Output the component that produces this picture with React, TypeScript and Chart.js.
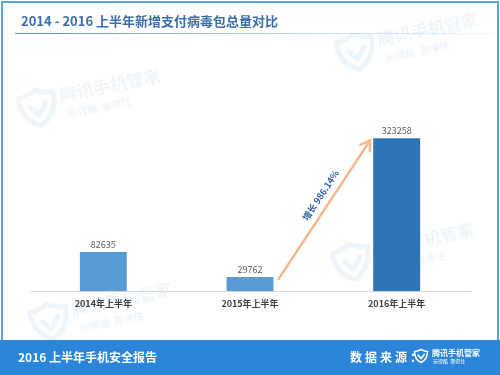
import React, { useEffect, useRef } from "react";
import { Chart, registerables } from "chart.js";

Chart.register(...registerables);

const categories = ["2014年上半年", "2015年上半年", "2016年上半年"];
const values = [82635, 29762, 323258];
const barColors = ["#5b9bd5", "#5b9bd5", "#2e75b6"];
const titleText = "2014 - 2016 上半年新增支付病毒包总量对比";
const growthLabel = "增长 986.14%";
const footerLeft = "2016 上半年手机安全报告";
const footerSource = "数据来源：";
const brandName = "腾讯手机管家";
const brandSlogan = "玩得酷  靠得住";

const FONT = "'Noto Sans CJK SC', 'Noto Sans', sans-serif";

function drawShield(ctx: CanvasRenderingContext2D, x: number, y: number, s: number, color: string, lw: number) {
  ctx.save();
  ctx.translate(x, y);
  ctx.strokeStyle = color;
  ctx.lineWidth = lw;
  ctx.lineJoin = "round";
  ctx.beginPath();
  ctx.moveTo(0, -s * 0.5);
  ctx.quadraticCurveTo(s * 0.3, -s * 0.35, s * 0.5, -s * 0.35);
  ctx.quadraticCurveTo(s * 0.5, s * 0.25, 0, s * 0.5);
  ctx.quadraticCurveTo(-s * 0.5, s * 0.25, -s * 0.5, -s * 0.35);
  ctx.quadraticCurveTo(-s * 0.3, -s * 0.35, 0, -s * 0.5);
  ctx.closePath();
  ctx.stroke();
  ctx.beginPath();
  ctx.moveTo(-s * 0.25, -s * 0.1);
  ctx.lineTo(0, s * 0.2);
  ctx.lineTo(s * 0.28, -s * 0.15);
  ctx.stroke();
  ctx.restore();
}

function drawWatermark(ctx: CanvasRenderingContext2D, x: number, y: number) {
  const c = "rgba(91,155,213,0.1)";
  ctx.save();
  ctx.translate(x, y);
  ctx.rotate(-0.2);
  drawShield(ctx, 0, 0, 36, c, 5);
  ctx.fillStyle = c;
  ctx.font = `bold 17px ${FONT}`;
  ctx.textBaseline = "middle";
  ctx.textAlign = "left";
  ctx.fillText(brandName, 24, -8);
  ctx.font = `bold 10px ${FONT}`;
  ctx.fillText(brandSlogan, 28, 12);
  ctx.restore();
}

const framePlugin = {
  id: "frame",
  beforeDraw(chart: any) {
    const ctx: CanvasRenderingContext2D = chart.ctx;
    const W = chart.width;
    const H = chart.height;
    ctx.save();
    ctx.fillStyle = "#ffffff";
    ctx.fillRect(0, 0, W, H);

    // watermarks
    drawWatermark(ctx, 38, 108);
    drawWatermark(ctx, 356, 52);
    drawWatermark(ctx, 352, 262);
    drawWatermark(ctx, 50, 322);

    // title
    ctx.fillStyle = "#3b6ea8";
    ctx.font = `bold 13px ${FONT}`;
    ctx.textAlign = "left";
    ctx.textBaseline = "middle";
    ctx.fillText(titleText, 21, 21);

    // title underline
    const g = ctx.createLinearGradient(15, 0, 495, 0);
    g.addColorStop(0, "rgba(70,130,195,0.9)");
    g.addColorStop(0.6, "rgba(120,170,220,0.5)");
    g.addColorStop(1, "rgba(180,210,240,0.2)");
    ctx.strokeStyle = g;
    ctx.lineWidth = 1;
    ctx.beginPath();
    ctx.moveTo(15, 33.5);
    ctx.lineTo(495, 33.5);
    ctx.stroke();

    // outer border
    ctx.strokeStyle = "#5f9fdc";
    ctx.lineWidth = 2;
    ctx.strokeRect(2, 2, W - 4, 340);

    // footer
    ctx.fillStyle = "#2b86d9";
    ctx.fillRect(0, 340, W, H - 340);
    ctx.fillStyle = "#ffffff";
    ctx.font = `bold 12px ${FONT}`;
    ctx.textBaseline = "middle";
    ctx.fillText(footerLeft, 18, 357);
    ctx.font = `bold 12px ${FONT}`;
    let sx = 350;
    for (const ch of footerSource) {
      ctx.fillText(ch, sx, 357);
      sx += ch === "：" ? 12 : 15;
    }
    drawShield(ctx, 421, 356, 13, "#ffffff", 1.6);
    ctx.font = `bold 8px ${FONT}`;
    ctx.fillText(brandName, 432, 353);
    ctx.font = `5px ${FONT}`;
    ctx.fillText(brandSlogan, 433, 361);
    ctx.restore();
  },
  afterDatasetsDraw(chart: any) {
    const ctx: CanvasRenderingContext2D = chart.ctx;
    const meta = chart.getDatasetMeta(0);
    const ds = chart.data.datasets[0];
    ctx.save();
    ctx.font = `9px ${FONT}`;
    ctx.fillStyle = "#595959";
    ctx.textAlign = "center";
    ctx.textBaseline = "bottom";
    meta.data.forEach((bar: any, i: number) => {
      ctx.fillText(String(ds.data[i]), bar.x, bar.y - 3);
    });

    // growth arrow
    const b2 = meta.data[1];
    const b3 = meta.data[2];
    const x1 = b2.x + b2.width / 2 + 5;
    const y1 = b2.y + 2;
    const x2 = b3.x - b3.width / 2 - 3;
    const y2 = b3.y + 2;
    ctx.strokeStyle = "#f5b88e";
    ctx.lineWidth = 2.5;
    ctx.lineCap = "round";
    ctx.lineJoin = "round";
    ctx.beginPath();
    ctx.moveTo(x1, y1);
    ctx.lineTo(x2, y2);
    ctx.stroke();
    const ang = Math.atan2(y2 - y1, x2 - x1);
    const hl = 11;
    ctx.beginPath();
    ctx.moveTo(x2 - hl * Math.cos(ang - 0.55), y2 - hl * Math.sin(ang - 0.55));
    ctx.lineTo(x2, y2);
    ctx.lineTo(x2 - hl * Math.cos(ang + 0.55), y2 - hl * Math.sin(ang + 0.55));
    ctx.stroke();

    // growth label
    const t = 0.56;
    const mx = x1 + (x2 - x1) * t;
    const my = y1 + (y2 - y1) * t;
    const nx = Math.sin(ang);
    const ny = -Math.cos(ang);
    ctx.translate(mx + nx * 11, my + ny * 11);
    ctx.rotate(ang);
    ctx.fillStyle = "#2f5f9e";
    ctx.font = `bold 9px ${FONT}`;
    ctx.textAlign = "center";
    ctx.textBaseline = "middle";
    ctx.fillText(growthLabel, 0, 0);
    ctx.restore();
  },
};

export default function App() {
  const ref = useRef<HTMLCanvasElement | null>(null);
  useEffect(() => {
    if (!ref.current) return;
    const chart = new Chart(ref.current, {
      type: "bar",
      data: {
        labels: categories,
        datasets: [
          {
            data: values,
            backgroundColor: barColors,
            barPercentage: 0.32,
            categoryPercentage: 1,
          },
        ],
      },
      options: {
        responsive: false,
        animation: false,
        devicePixelRatio: 1,
        layout: { padding: { top: 102, bottom: 59, left: 30, right: 30 } },
        plugins: { legend: { display: false }, tooltip: { enabled: false } },
        scales: {
          x: {
            grid: { display: false, drawTicks: false },
            border: { display: true, color: "#d9d9d9", width: 1 },
            ticks: { font: { size: 9, weight: "bold", family: FONT }, color: "#404040", padding: 7 },
          },
          y: { display: false, min: 0, max: 400000 },
        },
      },
      plugins: [framePlugin],
    } as any);
    return () => chart.destroy();
  }, []);
  return (
    <div style={{ position: "fixed", left: 0, top: 0, width: 500, height: 375 }}>
      <canvas ref={ref} width={500} height={375} style={{ width: 500, height: 375 }} />
    </div>
  );
}
